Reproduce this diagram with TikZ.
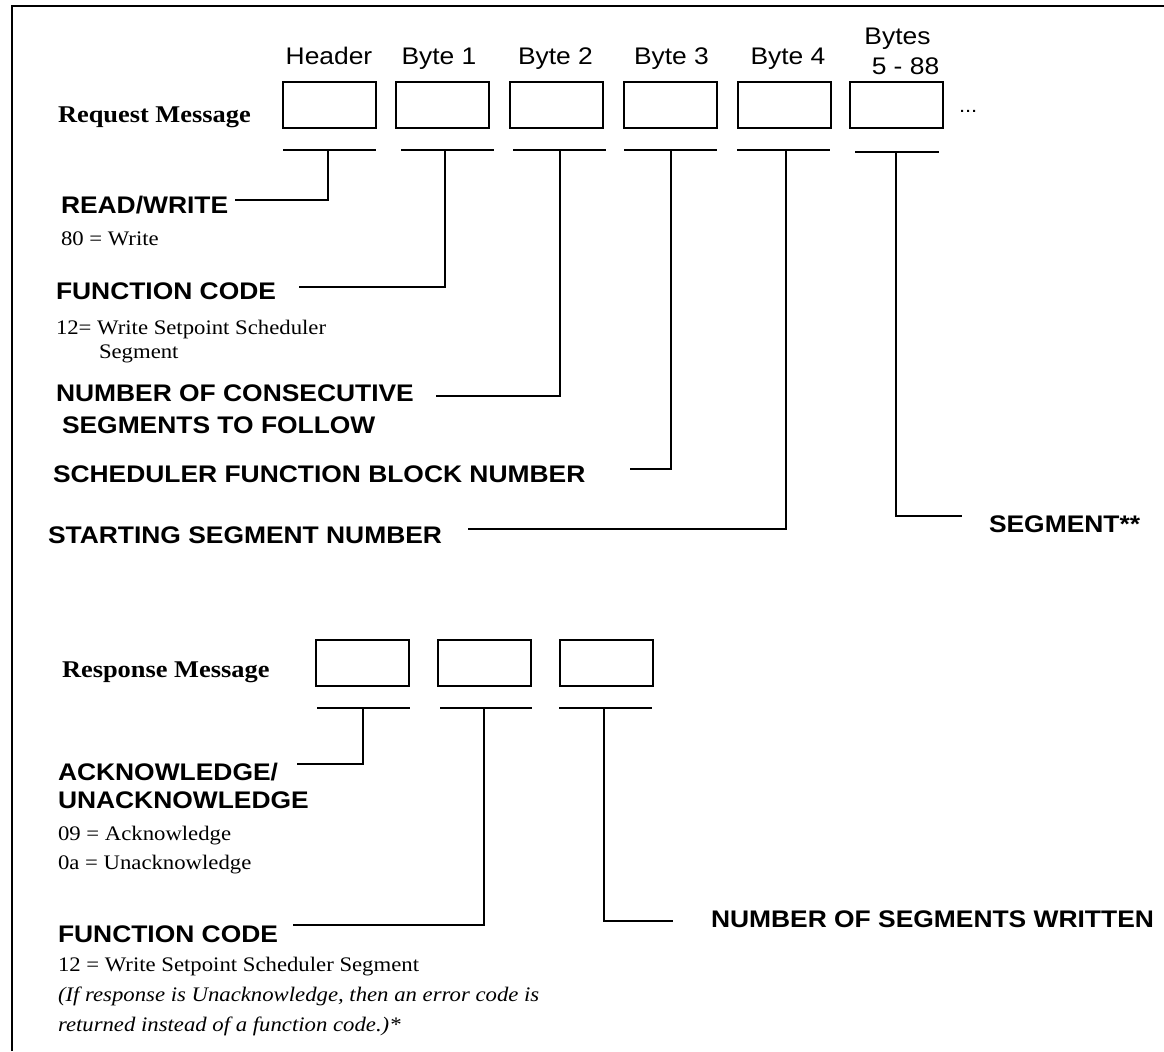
\documentclass[tikz,border=0pt]{standalone}
\usepackage{fontspec}
\setmainfont{Liberation Serif}[FakeStretch=1.1]
\setsansfont{Liberation Sans}[FakeStretch=1.1]
\begin{document}
\begin{tikzpicture}[x=0.75pt,y=-0.75pt,line width=1.5pt,
  bytebox/.style={draw,line width=1.5pt,minimum width=69.75pt,minimum height=34.5pt,inner sep=0pt,outer sep=0pt},
  hdr/.style={font=\sffamily\fontsize{18}{20}\selectfont,anchor=base,inner sep=0pt},
  field/.style={font=\sffamily\bfseries\fontsize{18}{20}\selectfont,anchor=base west,inner sep=0pt},
  note/.style={font=\rmfamily\fontsize{15.5}{18}\selectfont,anchor=base west,inner sep=0pt},
  remark/.style={font=\rmfamily\itshape\fontsize{15.5}{18}\selectfont,anchor=base west,inner sep=0pt},
  msg/.style={font=\rmfamily\bfseries\fontsize{18}{20}\selectfont,anchor=base west,inner sep=0pt},
  leader/.style={line width=1.5pt}]
\useasboundingbox (0,0) rectangle (1164,1051);

% frame
\draw[line width=1.5pt] (12,1051) -- (12,6) -- (1164,6);

% ---------------- request message ----------------
\node[msg] (reqlbl) at (57,122) {Request Message};

\node[bytebox] (hb) at (329,104.5) {};
\node[bytebox] (b1) at (442,104.5) {};
\node[bytebox] (b2) at (556,104.5) {};
\node[bytebox] (b3) at (670,104.5) {};
\node[bytebox] (b4) at (784.5,104.5) {};
\node[bytebox] (b5) at (896,105) {};
\node[font=\sffamily\fontsize{15}{16}\selectfont,anchor=base west,inner sep=0pt] (more) at (958,112) {...};

\node[hdr] (hl) at (329,64) {Header};
\node[hdr] (b1l) at (439,64) {Byte 1};
\node[hdr] (b2l) at (555.5,64) {Byte 2};
\node[hdr] (b3l) at (671.5,64) {Byte 3};
\node[hdr] (b4l) at (788,64) {Byte 4};
\node[hdr] (b5la) at (897.5,44) {Bytes};
\node[hdr] (b5lb) at (905.5,74) {5 - 88};

% drop points under each byte
\coordinate (dh) at (328,150);
\coordinate (d1) at (445,150);
\coordinate (d2) at (560,150);
\coordinate (d3) at (671,150);
\coordinate (d4) at (786,150);
\coordinate (d5) at (896,152);

\draw ([xshift=-33.75pt]dh) -- ([xshift=36pt]dh);
\draw ([xshift=-33pt]d1) -- ([xshift=36.75pt]d1);
\draw ([xshift=-35.25pt]d2) -- ([xshift=34.5pt]d2);
\draw ([xshift=-35.25pt]d3) -- ([xshift=34.5pt]d3);
\draw ([xshift=-36.75pt]d4) -- ([xshift=33pt]d4);
\draw ([xshift=-30.75pt]d5) -- ([xshift=32.25pt]d5);

% field descriptions
\node[field] (rw) at (60,213) {READ/WRITE};
\node[note] (rwv) at (60,245) {80 = Write};
\node[field] (fc) at (55,299) {FUNCTION CODE};
\node[note] (fcv1) at (55,334) {12= Write Setpoint Scheduler};
\node[note] (fcv2) at (98,358) {Segment};
\node[field] (nc1) at (55,401) {NUMBER OF CONSECUTIVE};
\node[field] (nc2) at (61,433) {SEGMENTS TO FOLLOW};
\node[field] (sf) at (52,482) {SCHEDULER FUNCTION BLOCK NUMBER};
\node[field] (ss) at (47,543) {STARTING SEGMENT NUMBER};
\node[field] (sg) at (988,532) {SEGMENT**};

% leader ends
\coordinate (eh) at (235,200);
\coordinate (e1) at (299,287);
\coordinate (e2) at (436,396);
\coordinate (e3) at (630,469);
\coordinate (e4) at (468,529);
\coordinate (e5) at (962,516);

\draw[leader] (dh) |- (eh);
\draw[leader] (d1) |- (e1);
\draw[leader] (d2) |- (e2);
\draw[leader] (d3) |- (e3);
\draw[leader] (d4) |- (e4);
\draw[leader] (d5) |- (e5);

% ---------------- response message ----------------
\node[msg] (reslbl) at (61,677) {Response Message};

\node[bytebox] (r1) at (362.5,663) {};
\node[bytebox] (r2) at (484.5,663) {};
\node[bytebox] (r3) at (606,663) {};

\coordinate (q1) at (363,708);
\coordinate (q2) at (484,708);
\coordinate (q3) at (604,708);

\draw ([xshift=-34.5pt]q1) -- ([xshift=35.25pt]q1);
\draw ([xshift=-33pt]q2) -- ([xshift=36pt]q2);
\draw ([xshift=-33.75pt]q3) -- ([xshift=36pt]q3);

\node[field] (ack1) at (57,780) {ACKNOWLEDGE/};
\node[field] (ack2) at (57,808) {UNACKNOWLEDGE};
\node[note] (ackv1) at (57,840) {09 = Acknowledge};
\node[note] (ackv2) at (57,869) {0a = Unacknowledge};
\node[field] (rfc) at (57,942) {FUNCTION CODE};
\node[note] (rfcv) at (57,971) {12 = Write Setpoint Scheduler Segment};
\node[remark] (rfcn1) at (57,1001) {(If response is Unacknowledge, then an error code is};
\node[remark] (rfcn2) at (57,1031) {returned instead of a function code.)*};
\node[field] (nsw) at (710,927) {NUMBER OF SEGMENTS WRITTEN};

\coordinate (f1) at (297,764);
\coordinate (f2) at (293,925);
\coordinate (f3) at (673,921);

\draw[leader] (q1) |- (f1);
\draw[leader] (q2) |- (f2);
\draw[leader] (q3) |- (f3);
\end{tikzpicture}
\end{document}
